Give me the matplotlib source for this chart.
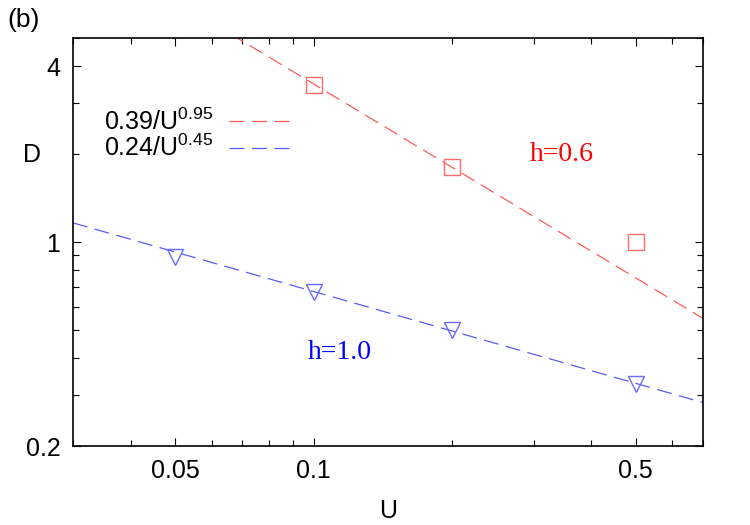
import numpy as np
import matplotlib
matplotlib.use('Agg')
import matplotlib.pyplot as plt
from matplotlib.ticker import FixedLocator, LogLocator, NullFormatter, FixedFormatter

# data
u_pts = [0.1, 0.2, 0.5]
d_h06 = [3.46, 1.80, 1.0]
u_tri = [0.05, 0.1, 0.2, 0.5]
d_h10 = [0.89, 0.675, 0.50, 0.325]

fit_a = [0.39, 0.24]
fit_b = [0.95, 0.45]
fit_labels = ['0.39/U$^{0.95}$', '0.24/U$^{0.45}$']
fit_colors = ['#ff5a5a', '#5a5aff']

xticks = [0.05, 0.1, 0.5]
xticklabels = ['0.05', '0.1', '0.5']
yticks = [0.2, 1, 4]
yticklabels = ['0.2', '1', '4']

plt.rcParams['font.family'] = ['Liberation Sans', 'DejaVu Sans']
plt.rcParams['mathtext.fontset'] = 'custom'
plt.rcParams['mathtext.rm'] = 'Liberation Sans'

fig = plt.figure(figsize=(7.5, 5.25), dpi=100)
ax = fig.add_axes([73 / 750, 1 - 446 / 525, 630 / 750, 408 / 525])

uu = np.logspace(np.log10(0.03), np.log10(0.7), 200)
for a, b, lab, c in zip(fit_a, fit_b, fit_labels, fit_colors):
    ax.plot(uu, a / uu ** b, color=c, lw=0.9, dashes=(12, 6), label=lab)

ax.plot(u_pts, d_h06, 's', ms=12, mfc='none', mec='#ff6a6a', mew=1.0)
ax.plot(u_tri, d_h10, 'v', ms=11, mfc='none', mec='#6a6aff', mew=1.0)

ax.set_xscale('log')
ax.set_yscale('log')
ax.set_xlim(0.03, 0.7)
ax.set_ylim(0.2, 5)

ax.xaxis.set_major_locator(FixedLocator(xticks))
ax.xaxis.set_major_formatter(FixedFormatter(xticklabels))
ax.xaxis.set_minor_locator(LogLocator(base=10, subs=np.arange(2, 10)))
ax.xaxis.set_minor_formatter(NullFormatter())
ax.yaxis.set_major_locator(FixedLocator(yticks))
ax.yaxis.set_major_formatter(FixedFormatter(yticklabels))
ax.yaxis.set_minor_locator(LogLocator(base=10, subs=np.arange(2, 10)))
ax.yaxis.set_minor_formatter(NullFormatter())

ax.tick_params(which='both', direction='in', top=True, right=True, labelsize=18, width=0.8)
ax.tick_params(which='major', length=6, pad=9)
ax.tick_params(which='minor', length=4)
for s in ax.spines.values():
    s.set_linewidth(1.2)

ax.set_xlabel('U', fontsize=18, labelpad=12)
ax.set_ylabel('D', fontsize=18, rotation=0, va='center')
ax.yaxis.set_label_coords(-0.065, 0.713)

ax.text(0.776, 0.715, 'h=0.6', color='red', fontsize=20, family='Liberation Serif',
        transform=ax.transAxes, ha='center', va='center')
ax.text(0.424, 0.23, 'h=1.0', color='blue', fontsize=20, family='Liberation Serif',
        transform=ax.transAxes, ha='center', va='center')
fig.text(24 / 750, 1 - 20 / 525, '(b)', fontsize=19, ha='center', va='center')

ax.legend(loc='upper left', bbox_to_anchor=(0.014, 0.882), frameon=False, markerfirst=False,
          fontsize=18, handlelength=2.6, handletextpad=0.6, labelspacing=0.0)

fig.savefig('out.png', dpi=100)
